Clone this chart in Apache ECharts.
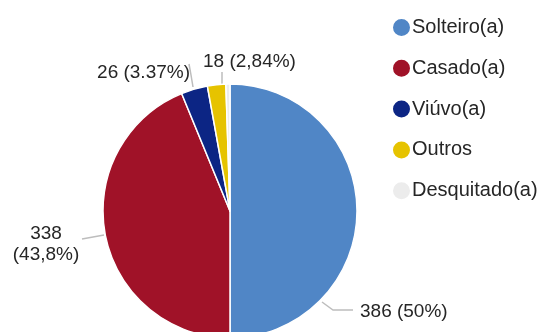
<!DOCTYPE html>
<html>
<head>
<meta charset="utf-8">
<script src="https://cdn.jsdelivr.net/npm/echarts@6/dist/echarts.min.js"></script>
<style>
  html, body { margin: 0; padding: 0; background: #ffffff; }
  #chart { width: 539px; height: 332px; }
</style>
</head>
<body>
<div id="chart"></div>
<script>
const categories = ['Solteiro(a)', 'Casado(a)', 'Viúvo(a)', 'Outros', 'Desquitado(a)'];
const values = [386, 338, 26, 18, 4];
const labelTexts = ['386 (50%)', '338\n(43,8%)', '26 (3.37%)', '18 (2,84%)', ''];
const colors = ['#5086c6', '#a01228', '#0c2584', '#e6c300', '#ececec'];

const labelPlacement = [
  { x: 360, y: 312, align: 'left', verticalAlign: 'middle', labelLinePoints: [[322, 302], [333, 310], [353, 310]] },
  { x: 46, y: 244, align: 'center', verticalAlign: 'middle', labelLinePoints: [[104, 235], [93, 237], [82, 239]] },
  { x: 190, y: 73, align: 'right', verticalAlign: 'middle', labelLinePoints: [[193, 87], [191, 75], [189, 64]] },
  { x: 203, y: 62, align: 'left', verticalAlign: 'middle', labelLinePoints: [[222, 84], [222, 78], [222, 72]] },
  { x: 230, y: 80, align: 'center', verticalAlign: 'middle' }
];

const chart = echarts.init(document.getElementById('chart'), null, { renderer: 'canvas' });
chart.setOption({
  animation: false,
  backgroundColor: '#ffffff',
  color: colors,
  legend: {
    orient: 'vertical',
    left: 386,
    top: 12,
    icon: 'circle',
    itemWidth: 19,
    itemHeight: 19,
    itemGap: 19.8,
    textStyle: { fontFamily: 'Liberation Sans, Arial, sans-serif', fontSize: 20, color: '#262626', padding: [0, 0, 0, -4] },
    data: categories
  },
  series: [{
    type: 'pie',
    center: [230, 211],
    radius: 127,
    startAngle: 90,
    clockwise: true,
    avoidLabelOverlap: false,
    itemStyle: { borderColor: '#ffffff', borderWidth: 1.5 },
    label: {
      show: true,
      position: 'outside',
      fontFamily: 'Liberation Sans, Arial, sans-serif',
      fontSize: 19,
      lineHeight: 21,
      color: '#262626',
      formatter: function (p) { return labelTexts[p.dataIndex]; }
    },
    labelLine: { show: true, lineStyle: { color: '#bdbdbd', width: 1.5 } },
    labelLayout: function (p) { return labelPlacement[p.dataIndex]; },
    data: categories.map(function (c, i) {
      const item = { name: c, value: values[i] };
      if (!labelTexts[i]) { item.label = { show: false }; item.labelLine = { show: false }; }
      return item;
    })
  }]
});
</script>
</body>
</html>
